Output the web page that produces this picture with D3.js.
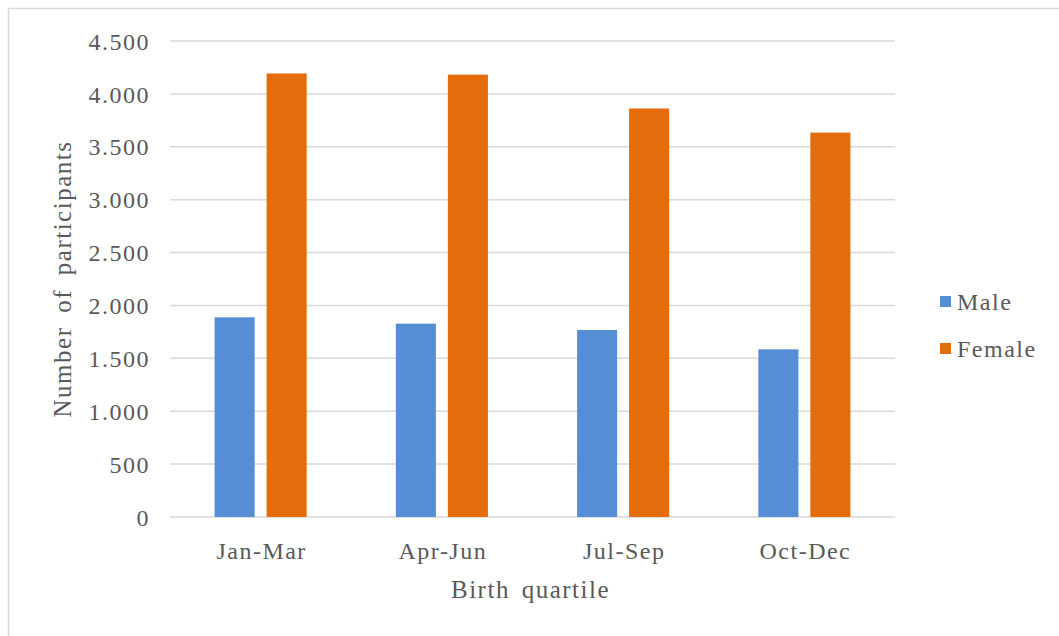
<!DOCTYPE html>
<html>
<head>
<meta charset="utf-8">
<script src="https://cdn.jsdelivr.net/npm/d3@7"></script>
<style>
  html, body { margin: 0; padding: 0; background: #fff; }
  svg { display: block; }
</style>
</head>
<body>
<svg id="chart" width="1059" height="636"></svg>
<script>
const categories = ["Jan-Mar", "Apr-Jun", "Jul-Sep", "Oct-Dec"];
const seriesNames = ["Male", "Female"];
const maleValues = [1888, 1828, 1768, 1585];
const femaleValues = [4193, 4182, 3862, 3634];
const yTicks = [0, 500, 1000, 1500, 2000, 2500, 3000, 3500, 4000, 4500];
const colors = ["#558ed5", "#e46c0a"];

const FONT = '"Liberation Serif", "Times New Roman", serif';
const TXT = "#595959";
const svg = d3.select("#chart");
const W = 1059, H = 636;

function styleText(sel, size, ls, ws) {
  sel.style("font-family", FONT).style("font-size", size + "px")
    .style("letter-spacing", ls + "px").style("word-spacing", (ws || 0) + "px")
    .attr("fill", TXT);
  return sel;
}

// outer frame (top & left visible)
svg.append("line").attr("x1", 8).attr("y1", 8.5).attr("x2", W).attr("y2", 8.5)
  .attr("stroke", "#d9d9d9").attr("stroke-width", 1.5);
svg.append("line").attr("x1", 8.5).attr("y1", 8).attr("x2", 8.5).attr("y2", H)
  .attr("stroke", "#d9d9d9").attr("stroke-width", 1.5);

const plot = { left: 170, right: 895, top: 41, bottom: 517 };

const y = d3.scaleLinear().domain([0, 4500]).range([plot.bottom, plot.top]);
const x0 = d3.scaleBand().domain(categories).range([plot.left, plot.right])
  .paddingInner(0.492).paddingOuter(0.246);
const x1 = d3.scaleBand().domain(seriesNames).range([0, x0.bandwidth()])
  .paddingInner(0.23).paddingOuter(0);

const locale = d3.formatLocale({ decimal: ",", thousands: ".", grouping: [3], currency: ["", ""] });
const fmt = locale.format(",d");

// gridlines
svg.append("g").selectAll("line").data(yTicks).join("line")
  .attr("x1", plot.left).attr("x2", plot.right)
  .attr("y1", d => y(d)).attr("y2", d => y(d))
  .attr("stroke", "#d9d9d9").attr("stroke-width", 1.5);

// y axis labels
const yAxis = d3.axisLeft(y).tickValues(yTicks).tickFormat(fmt).tickSize(0).tickPadding(0);
const yg = svg.append("g").attr("transform", `translate(${150},0)`).call(yAxis);
yg.select(".domain").remove();
styleText(yg.selectAll("text"), 24, 1.5).attr("dy", "0.34em");

// bars
const data = categories.map((c, i) => ({ cat: c, values: [
  { key: "Male", value: maleValues[i], color: colors[0] },
  { key: "Female", value: femaleValues[i], color: colors[1] }
]}));

const groups = svg.append("g").selectAll("g").data(data).join("g")
  .attr("transform", d => `translate(${x0(d.cat)},0)`);
groups.selectAll("rect").data(d => d.values).join("rect")
  .attr("x", d => x1(d.key))
  .attr("width", x1.bandwidth())
  .attr("y", d => y(d.value))
  .attr("height", d => y(0) - y(d.value))
  .attr("fill", d => d.color);

// x axis labels
const xAxis = d3.axisBottom(x0).tickSize(0).tickPadding(0);
const xg = svg.append("g").attr("transform", `translate(0,${559})`).call(xAxis);
xg.select(".domain").remove();
styleText(xg.selectAll("text"), 24, 1.5).attr("dy", "0").attr("dx", "1");

// axis titles
styleText(svg.append("text"), 25, 1.5, 4)
  .attr("x", (plot.left + plot.right) / 2 - 2).attr("y", 598)
  .attr("text-anchor", "middle").text("Birth quartile");
styleText(svg.append("text"), 25, 1.5, 6)
  .attr("transform", `translate(71,${279}) rotate(-90)`)
  .attr("text-anchor", "middle").text("Number of participants");

// legend
const legend = svg.append("g").selectAll("g").data(seriesNames).join("g")
  .attr("transform", (d, i) => `translate(940,${296 + i * 47})`);
legend.append("rect").attr("width", 11).attr("height", 11).attr("fill", (d, i) => colors[i]);
styleText(legend.append("text"), 24, 1.5)
  .attr("x", 17).attr("y", 14).text(d => d);
</script>
</body>
</html>
